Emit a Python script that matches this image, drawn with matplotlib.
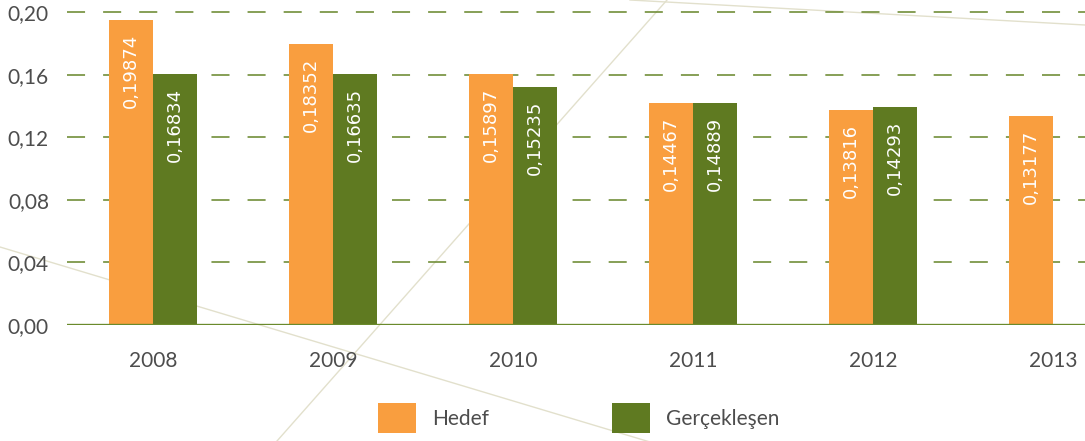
import matplotlib
matplotlib.use("Agg")
import matplotlib.pyplot as plt
from matplotlib.lines import Line2D
from matplotlib.patches import Patch
from matplotlib import font_manager
import numpy as np

# Veriler
years = ["2008", "2009", "2010", "2011", "2012", "2013"]
hedef_heights = [0.195, 0.1796, 0.1604, 0.1419, 0.1374, 0.1335]
gercek_heights = [0.1604, 0.1604, 0.1521, 0.1419, 0.1393, np.nan]
hedef_labels = [0.19874, 0.18352, 0.15897, 0.14467, 0.13816, 0.13177]
gercek_labels = [0.16834, 0.16635, 0.15235, 0.14889, 0.14293, np.nan]
y_ticks = [0.00, 0.04, 0.08, 0.12, 0.16, 0.20]

orange = "#f99e3f"
green = "#5f7a21"
grid_green = "#6f8c35"
text_gray = "#4d4d4d"

installed = {f.name for f in font_manager.fontManager.ttflist}
narrow = "Liberation Sans Narrow" if "Liberation Sans Narrow" in installed else "DejaVu Sans Condensed"
if narrow not in installed:
    narrow = "DejaVu Sans"
plt.rcParams["font.family"] = ["Lato", "DejaVu Sans"]

W, H = 1085, 441
fig = plt.figure(figsize=(W / 100, H / 100), dpi=100)

# dekoratif arka plan çizgileri (piksel -> figür oranı)
def px_line(x0, y0, x1, y1):
    fig.add_artist(Line2D([x0 / W, x1 / W], [1 - y0 / H, 1 - y1 / H],
                          transform=fig.transFigure, color="#e2e0cc",
                          lw=1.0, zorder=-1))

px_line(0, 247, 650, 442)
px_line(667, 0, 277, 441)
px_line(630, 0, 1085, 25)

ax = fig.add_axes([67 / W, 116 / H, 1 - 67 / W, 315 / H])
ax.set_facecolor("none")

x = np.arange(len(years))
w = 0.244
ax.bar(x - w / 2, hedef_heights, w, color=orange, zorder=3)
ax.bar(x + w / 2, gercek_heights, w, color=green, zorder=3)

def fmt(v):
    return f"{v:.5f}".replace(".", ",")

for i in range(len(years)):
    ax.annotate(fmt(hedef_labels[i]), xy=(x[i] - w / 2, hedef_heights[i]),
                xytext=(0, -10), textcoords="offset points", rotation=90,
                ha="center", va="top", color="white", fontsize=13,
                family=narrow, zorder=4)
    if not np.isnan(gercek_heights[i]):
        ax.annotate(fmt(gercek_labels[i]), xy=(x[i] + w / 2, gercek_heights[i]),
                    xytext=(0, -10), textcoords="offset points", rotation=90,
                    ha="center", va="top", color="white", fontsize=13,
                    family=narrow, zorder=4)

ax.set_xlim(-0.478, 5.178)
ax.set_ylim(0, 0.2 * 315 / 313)
ax.set_yticks(y_ticks)
ax.set_yticklabels([f"{t:.2f}".replace(".", ",") for t in y_ticks])
ax.set_xticks(x)
ax.set_xticklabels(years)
ax.tick_params(axis="both", length=0, labelsize=15, colors=text_gray)
ax.tick_params(axis="y", pad=13)
ax.tick_params(axis="x", pad=19)

for s in ax.spines.values():
    s.set_visible(False)

ax.yaxis.grid(True, color=grid_green, lw=1.3, linestyle=(0, (10, 10)), alpha=0.9)
ax.set_axisbelow(True)
ax.axhline(0, color="#6a8a2c", lw=2.4, zorder=5)

handles = [Patch(facecolor=orange, label="Hedef"),
           Patch(facecolor=green, label="Gerçekleşen")]
fig.legend(handles=handles, loc="center", bbox_to_anchor=(0.533, 0.052),
           ncol=2, frameon=False, fontsize=15, handlelength=1.83,
           handleheight=1.83, handletextpad=0.77, columnspacing=5.9,
           labelcolor=text_gray)

fig.savefig("out.png", dpi=100)
